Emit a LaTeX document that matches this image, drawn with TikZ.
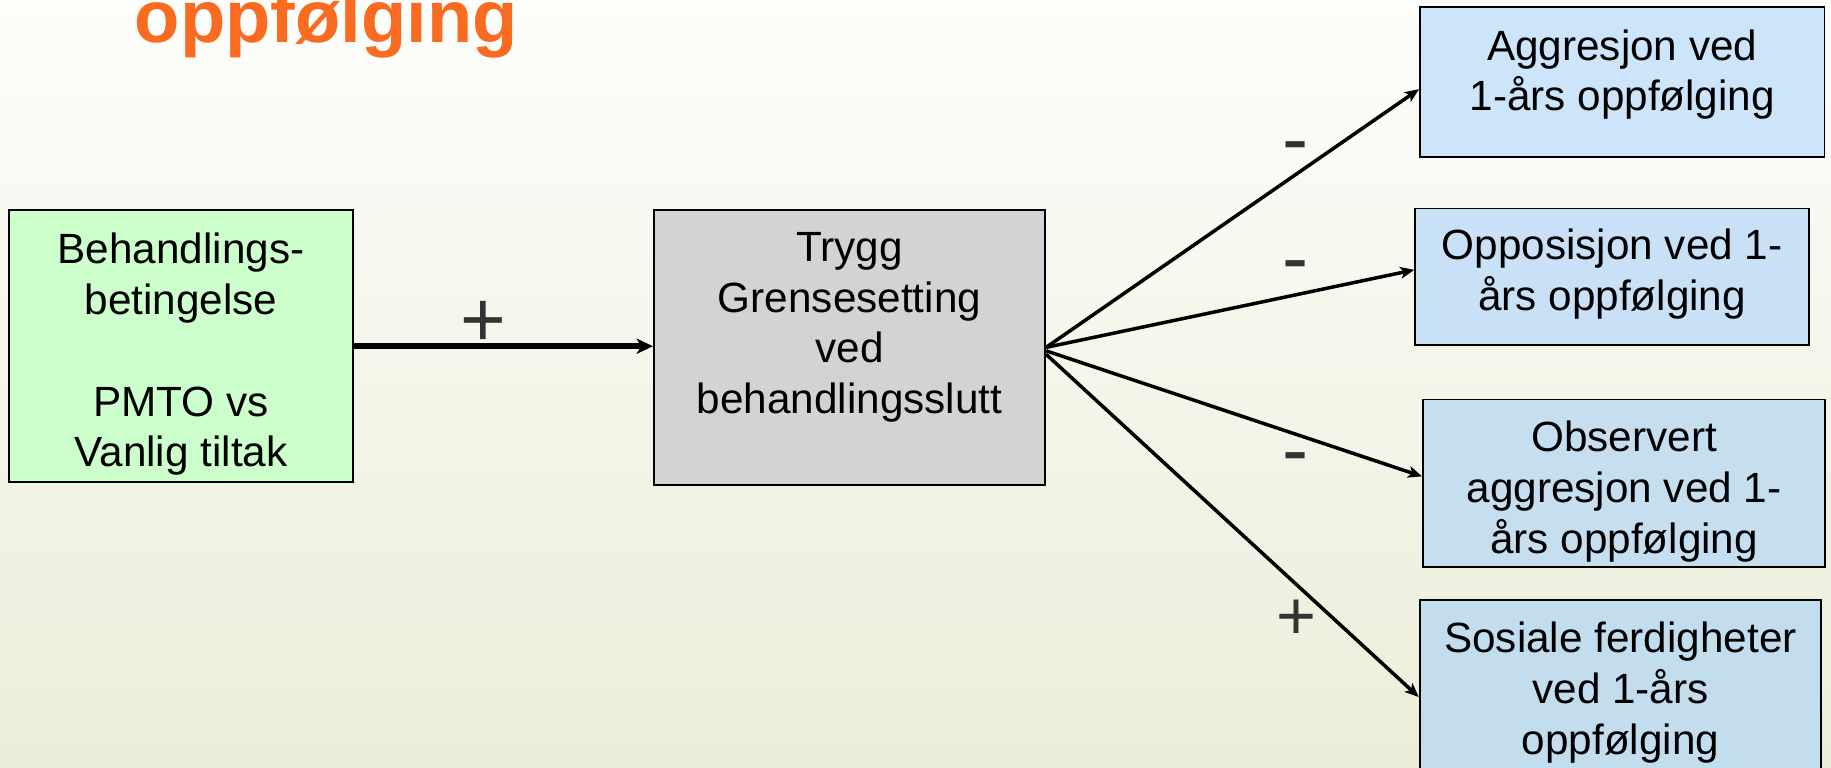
\documentclass[tikz,border=0pt]{standalone}
\usepackage{fontspec}
\setmainfont{Liberation Sans}
\usepackage{tikz}
\usetikzlibrary{arrows.meta}

\definecolor{titleorange}{RGB}{249,107,32}
\definecolor{condgreen}{RGB}{204,255,204}
\definecolor{limitgrey}{RGB}{211,211,209}
\definecolor{blueA}{RGB}{204,229,251}
\definecolor{blueB}{RGB}{200,225,247}
\definecolor{blueC}{RGB}{197,223,241}
\definecolor{blueD}{RGB}{194,221,237}
\definecolor{signgrey}{RGB}{51,51,51}
\definecolor{bgtop}{RGB}{253,253,251}
\definecolor{bgbottom}{RGB}{234,238,216}

\tikzset{
  factor/.style={draw=black, line width=1.6bp, fill=#1, inner sep=0pt},
  factortext/.style={align=center, inner sep=0pt,
    font=\fontsize{36.2bp}{43.5bp}\selectfont},
  sign/.style={text=signgrey, inner sep=0pt, anchor=base,
    font=\fontsize{67bp}{70bp}\selectfont},
  link/.style={line width=3bp, -{Stealth[length=12bp,width=10bp,inset=3bp]}}
}

\begin{document}
\begin{tikzpicture}[x=1bp,y=-1bp]
    \useasboundingbox (0,0) rectangle (1568,657);
    \clip (0,0) rectangle (1568,657);
    \shade[top color=bgtop, bottom color=bgbottom] (0,0) rectangle (1568,657);
    \node[anchor=base west, inner sep=0pt, text=titleorange,
      font=\fontsize{63.5bp}{70bp}\selectfont\bfseries] (title) at (115.3,36) {oppfølging};
    \node[factor=condgreen, minimum width=294bp, minimum height=233bp,
      label={[factortext, yshift=-7bp]center:Behandlings-\\betingelse\\[43.5bp]PMTO vs\\Vanlig tiltak}]
      (cond) at (155,296.5) {};
    \node[factor=limitgrey, minimum width=335bp, minimum height=235bp,
      label={[factortext, yshift=17.2bp]center:Trygg\\Grensesetting\\ved\\behandlingsslutt}]
      (limit) at (727.5,297.5) {};
    \node[factor=blueA, minimum width=346.5bp, minimum height=128bp,
      label={[factortext, yshift=6.5bp]center:Aggresjon ved\\1-års oppfølging}]
      (aggr) at (1389.2,70.3) {};
    \node[factor=blueB, minimum width=337bp, minimum height=117bp,
      label={[factortext, yshift=2.5bp]center:Opposisjon ved 1-\\års oppfølging}]
      (oppos) at (1380.5,237) {};
    \node[factor=blueC, minimum width=344.4bp, minimum height=143.8bp,
      label={[factortext, yshift=-7bp]center:Observert\\aggresjon ved 1-\\års oppfølging}]
      (obs) at (1390.8,414) {};
    \node[factor=blueD, minimum width=343.8bp, minimum height=154.2bp,
      label={[factortext, yshift=-2bp]center:Sosiale ferdigheter\\ved 1-års\\oppfølging}]
      (sos) at (1387.7,590.9) {};
    \draw[link, line width=5.5bp, -{Stealth[length=14bp,width=13bp,inset=4bp]}]
      (cond.east) -- (cond.east -| limit.west);
    \draw[link] (limit.east) -- (aggr.182.7);
    \draw[link] (limit.east) -- (oppos.178);
    \draw[link] (limit.359.5) -- (obs.178);
    \draw[link] (limit.358.1) -- (sos.182.3);
    \node[sign] (plusA) at (414.2,297.1) {+};
    \node[sign] (minusA) at (1109.4,141.9) {-};
    \node[sign] (minusB) at (1109.4,243.8) {-};
    \node[sign] (minusC) at (1109.2,407.9) {-};
    \node[sign, font=\fontsize{58.6bp}{60bp}\selectfont] (plusB) at (1109.9,547.6) {+};
\end{tikzpicture}
\end{document}
